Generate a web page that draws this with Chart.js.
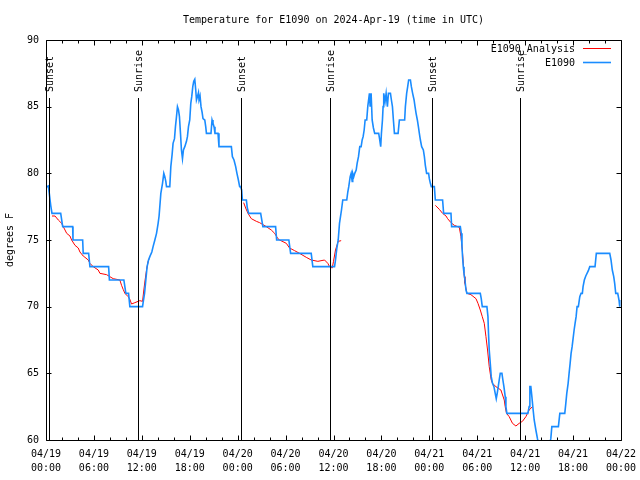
<!DOCTYPE html>
<html>
<head>
<meta charset="utf-8">
<script src="https://cdn.jsdelivr.net/npm/chart.js@4.4.1/dist/chart.umd.min.js"></script>
<style>
html,body{margin:0;padding:0;background:#fff;}
#c{display:block;}
</style>
</head>
<body>
<canvas id="c" width="640" height="480"></canvas>
<script>
// ---------- data ----------
const titleText = 'Temperature for E1090 on 2024-Apr-19 (time in UTC)';
const yAxisTitle = 'degrees F';
const tickHours = [0, 6, 12, 18, 24, 30, 36, 42, 48, 54, 60, 66, 72];
const tickDays  = ['04/19','04/19','04/19','04/19','04/20','04/20','04/20','04/20','04/21','04/21','04/21','04/21','04/22'];
const tickTimes = ['00:00','06:00','12:00','18:00','00:00','06:00','12:00','18:00','00:00','06:00','12:00','18:00','00:00'];
const yTicks = [60, 65, 70, 75, 80, 85, 90];
const minorStepHours = 2;

const eventHours  = [0.375, 11.54, 24.375, 35.5, 48.375, 59.375];
const eventLabels = ['Sunset', 'Sunrise', 'Sunset', 'Sunrise', 'Sunset', 'Sunrise'];

const seriesNames = ['E1090', 'E1090_Analysis'];

// observed E1090 (hours since 04/19 00:00 UTC, degrees F)
const obsHours = [
  0.1, 0.29, 0.41, 0.59, 0.75, 1.84, 2.09, 3.34, 3.38, 4.59,
  4.66, 5.34, 5.5, 7.84, 7.94, 9.75, 10.0, 10.34, 10.5, 12.09,
  12.16, 12.34, 12.5, 12.66, 12.84, 13.0, 13.25, 13.41, 13.63, 13.84,
  14.04, 14.16, 14.38, 14.59, 14.75, 14.88, 15.0, 15.09, 15.5, 15.63,
  15.79, 15.91, 16.09, 16.21, 16.34, 16.46, 16.59, 16.71, 16.84, 16.96,
  17.09, 17.21, 17.38, 17.59, 17.71, 17.84, 18.0, 18.13, 18.25, 18.38,
  18.5, 18.63, 18.75, 18.84, 18.96, 19.09, 19.16, 19.29, 19.41, 19.54,
  19.66, 19.88, 20.0, 20.09, 20.66, 20.79, 20.91, 21.04, 21.16, 21.54,
  21.66, 23.21, 23.34, 23.54, 23.75, 23.91, 24.09, 24.25, 24.37, 24.5,
  24.59, 25.09, 25.21, 25.38, 26.88, 27.16, 28.75, 28.88, 30.41, 30.63,
  33.21, 33.41, 35.71, 36.13, 36.25, 36.41, 36.59, 36.75, 37.0, 37.16,
  37.66, 37.79, 37.91, 38.09, 38.21, 38.34, 38.41, 38.54, 38.66, 38.84,
  38.96, 39.13, 39.29, 39.46, 39.59, 39.71, 39.84, 39.96, 40.16, 40.29,
  40.5, 40.59, 40.71, 40.84, 41.0, 41.16, 41.66, 41.79, 41.91, 42.0,
  42.13, 42.21, 42.29, 42.46, 42.59, 42.75, 42.88, 43.13, 43.25, 43.38,
  43.5, 43.63, 44.09, 44.25, 44.91, 45.0, 45.16, 45.29, 45.41, 45.63,
  45.75, 45.91, 46.09, 46.21, 46.34, 46.5, 46.63, 46.75, 46.88, 47.04,
  47.25, 47.38, 47.5, 47.66, 47.91, 48.0, 48.13, 48.25, 48.63, 48.75,
  49.66, 49.79, 50.71, 50.79, 51.88, 52.0, 52.09, 52.16, 52.25, 52.34,
  52.46, 52.59, 52.71, 54.38, 54.5, 54.63, 55.21, 55.34, 55.41, 55.5,
  55.63, 55.75, 55.91, 56.09, 56.25, 56.38, 56.5, 56.63, 56.75, 56.88,
  57.09, 57.21, 57.34, 57.5, 57.59, 57.71, 60.34, 60.5, 60.59, 60.71,
  60.84, 61.0, 61.13, 61.34, 61.54, 61.75, 62.38, 63.0, 63.21, 63.34,
  64.16, 64.34, 64.96, 65.09, 65.21, 65.38, 65.5, 65.63, 65.75, 65.88,
  66.0, 66.13, 66.25, 66.38, 66.5, 66.66, 66.84, 67.0, 67.16, 67.25,
  67.41, 67.59, 67.91, 68.09, 68.75, 68.91, 70.59, 70.75, 70.91, 71.09,
  71.21, 71.34, 71.59, 71.75, 71.84
];
const obsTemps = [
  79, 79.05, 78.5, 77.6, 77, 77, 76, 76, 75, 75,
  74, 74, 73, 73, 72, 72, 71, 71, 70, 70,
  70.3, 71, 72, 73, 73.5, 73.75, 74.1, 74.5, 75, 75.5,
  76.25, 76.8, 78.5, 79.25, 80, 79.75, 79.4, 79, 79, 80.5,
  81.4, 82.25, 82.6, 83.5, 84.25, 85, 84.75, 84.25, 83, 81.75,
  81.1, 81.75, 82, 82.4, 82.75, 83.5, 84, 85.25, 85.75, 86.5,
  86.9, 87.05, 86.25, 85.5, 85.75, 86.05, 85.5, 85.8, 85, 84.6,
  84.1, 84, 83.5, 83, 83, 84, 83.75, 83.5, 83, 83,
  82, 82, 81.25, 81, 80.5, 80, 79.5, 79, 79, 78.75,
  78, 78, 77.4, 77, 77, 76, 76, 75, 75, 74,
  74, 73, 73, 73, 73.5, 74.35, 75, 76.25, 77.25, 78,
  78, 78.6, 79, 79.75, 80, 79.4, 80, 79.75, 80, 80.25,
  80.75, 81.25, 82, 82, 82.5, 82.75, 83.25, 84, 84, 85,
  86, 85, 86, 84, 83.4, 83, 83, 82.5, 82, 83,
  84, 85, 86, 85.4, 86, 85, 86, 86, 85.5, 85,
  84, 83, 83, 84, 84, 85, 86, 86.5, 87, 87,
  86.5, 86, 85.5, 85, 84.5, 84, 83.5, 83, 82.5, 82,
  81.75, 81.25, 80.6, 80, 80, 79.6, 79.25, 79, 79, 78,
  78, 77, 77, 76, 76, 75.5, 74.5, 73.75, 73, 72.5,
  72, 71.25, 71, 71, 70.6, 70, 70, 69.25, 68, 66.75,
  65.75, 64.75, 64.25, 64, 63.5, 63.1, 63.5, 64, 64.5, 65,
  65, 64.5, 64, 63.25, 62.5, 62, 62, 62.5, 64, 64,
  63.25, 62.25, 61.5, 60.75, 60.1, 59.5, 59, 59.5, 60.1, 61,
  61, 62, 62, 62.75, 63.5, 64.25, 65, 65.75, 66.5, 67,
  67.6, 68.25, 68.75, 69.25, 70, 70, 70.75, 71, 71, 71.5,
  72, 72.3, 72.7, 73, 73, 74, 74, 73.5, 72.75, 72.25,
  71.75, 71, 71, 70.5, 70
];

// analysis E1090_Analysis (null = gap)
const anaHours = [
  0.75, 1.13, 1.54, 1.96, 2.16, 2.38, 2.59, 3.0, 3.21, 3.63,
  4.04, 4.25, 4.66, 4.88, 5.29, 5.5, 5.91, 6.54, 6.75, 7.59,
  8.0, 8.41, 9.25, 9.46, 9.66, 9.88, 10.29, 10.5, 10.71, 11.13,
  11.75, 12.09, 12.25, 12.41, 12.59, 12.79, 12.91,
  18,
  24.75, 25.0, 25.29, 25.5, 25.71, 26.34, 26.75, 27.59, 28.21, 28.63,
  29.04, 29.25, 30.09, 30.5, 31.13, 31.75, 32.59, 33.21, 34.04, 34.88,
  35.29, 35.5, 35.84, 36.0, 36.25, 36.59, 36.96,
  42,
  48.75, 49.25, 49.66, 50.09, 50.29, 50.71, 51.13, 51.75, 51.96, 52.13,
  52.25, 52.38, 52.46, 52.71, 53.21, 53.84, 54.09, 54.38, 54.63, 54.88,
  55.09, 55.29, 55.5, 55.75, 55.91, 56.34, 56.96, 57.38, 57.5, 57.66,
  58.0, 58.41, 58.84, 59.25, 59.66, 60.09, 60.5, 60.91
];
const anaTemps = [
  76.8, 76.8, 76.5, 76.25, 76, 75.75, 75.5, 75.3, 75, 74.6,
  74.4, 74.1, 73.8, 73.7, 73.5, 73.25, 73, 72.75, 72.5, 72.4,
  72.25, 72.1, 72, 71.6, 71.3, 71, 70.75, 70.55, 70.2, 70.3,
  70.45, 70.4, 71.25, 72, 72.75, 73.4, 73.6,
  null,
  77.8, 77.4, 77, 76.8, 76.6, 76.4, 76.3, 76, 75.75, 75.5,
  75.1, 75, 74.75, 74.4, 74.2, 74, 73.7, 73.5, 73.4, 73.5,
  73.25, 73, 72.9, 73.4, 74.25, 74.9, 74.95,
  null,
  77.6, 77.3, 77, 76.8, 76.6, 76.3, 76.1, 75.95, 75.25, 74.25,
  73.25, 72.25, 71.75, 71, 70.9, 70.6, 70.25, 69.75, 69.25, 68.75,
  67.75, 66.75, 65.5, 64.5, 64.25, 64, 63.75, 63, 62.5, 62,
  61.75, 61.25, 61.05, 61.25, 61.4, 61.75, 62.25, 62.5
];

// ---------- styling ----------
const FONT_FAMILY = '"DejaVu Sans Mono", "Liberation Mono", monospace';
const FONT_SIZE = 10;
const OBS_COLOR = '#1a8cff';
const ANA_COLOR = '#ff0000';
const MAJOR_TICK = 5;
const MINOR_TICK = 3;

function pairs(xs, ys) {
  const n = Math.min(xs.length, ys.length);
  const out = [];
  for (let i = 0; i < n; i++) out.push({x: xs[i], y: ys[i]});
  return out;
}

const gnuFrame = {
  id: 'gnuFrame',
  afterDatasetsDraw(chart) {
    const {ctx, chartArea: a, scales} = chart;
    const xs = scales.x, ys = scales.y;
    const L = Math.round(a.left) + 0.5, R = Math.round(a.right) + 0.5;
    const T = Math.round(a.top) + 0.5, B = Math.round(a.bottom) + 0.5;
    ctx.save();
    ctx.strokeStyle = '#000';
    ctx.lineWidth = 1;
    ctx.beginPath();
    ctx.moveTo(L, T); ctx.lineTo(R, T); ctx.lineTo(R, B); ctx.lineTo(L, B); ctx.closePath();
    ys.ticks.forEach(t => {
      const p = Math.round(ys.getPixelForValue(t.value)) + 0.5;
      ctx.moveTo(L, p); ctx.lineTo(L + MAJOR_TICK, p);
      ctx.moveTo(R, p); ctx.lineTo(R - MAJOR_TICK, p);
    });
    for (let h = xs.min; h <= xs.max; h += minorStepHours) {
      const len = tickHours.includes(h) ? MAJOR_TICK : MINOR_TICK;
      const p = Math.round(xs.getPixelForValue(h)) + 0.5;
      ctx.moveTo(p, B); ctx.lineTo(p, B - len);
      ctx.moveTo(p, T); ctx.lineTo(p, T + len);
    }
    ctx.stroke();

    // sunrise / sunset markers
    ctx.font = FONT_SIZE + 'px ' + FONT_FAMILY;
    ctx.fillStyle = '#000';
    eventHours.forEach((h, i) => {
      const p = Math.round(xs.getPixelForValue(h)) + 0.5;
      ctx.beginPath();
      ctx.moveTo(p, a.top + 58);
      ctx.lineTo(p, B);
      ctx.stroke();
      ctx.save();
      ctx.translate(p + 1, a.top + 52);
      ctx.rotate(-Math.PI / 2);
      ctx.textAlign = 'left';
      ctx.textBaseline = 'middle';
      ctx.fillText(eventLabels[i], 0, 0);
      ctx.restore();
    });

    // title
    ctx.textAlign = 'center';
    ctx.textBaseline = 'middle';
    ctx.fillText(titleText, (a.left + a.right) / 2, 20);

    // key (legend)
    const keyOrder = [1, 0];
    keyOrder.forEach((di, k) => {
      const ds = chart.data.datasets[di];
      const yy = Math.round(a.top + 9 + k * 14);
      ctx.textAlign = 'right';
      ctx.fillStyle = '#000';
      ctx.fillText(ds.label, a.right - 46, yy);
      ctx.strokeStyle = ds.borderColor;
      ctx.lineWidth = di === 1 ? 1 : 1.6;
      ctx.beginPath();
      ctx.moveTo(a.right - 38, yy - 0.5);
      ctx.lineTo(a.right - 10, yy - 0.5);
      ctx.stroke();
    });
    ctx.restore();
  }
};

const font = {family: FONT_FAMILY, size: FONT_SIZE, lineHeight: 1.4};

new Chart(document.getElementById('c'), {
  type: 'line',
  data: {
    datasets: [
      {
        label: seriesNames[0],
        data: pairs(obsHours, obsTemps),
        borderColor: OBS_COLOR,
        borderWidth: 1.6,
        pointRadius: 0,
        tension: 0,
        fill: false,
        clip: 0
      },
      {
        label: seriesNames[1],
        data: pairs(anaHours, anaTemps),
        borderColor: ANA_COLOR,
        borderWidth: 1,
        pointRadius: 0,
        tension: 0,
        fill: false,
        spanGaps: false,
        clip: 0
      }
    ]
  },
  options: {
    responsive: false,
    animation: false,
    devicePixelRatio: 1,
    layout: {padding: {top: 40, right: 19, left: 0, bottom: 0}},
    plugins: {
      legend: {display: false},
      tooltip: {enabled: false},
      title: {display: false}
    },
    scales: {
      x: {
        type: 'linear',
        min: tickHours[0],
        max: tickHours[tickHours.length - 1],
        afterBuildTicks: s => { s.ticks = tickHours.map(v => ({value: v})); },
        afterFit: s => { s.height = 40; s.paddingLeft = 0; s.paddingRight = 0; },
        grid: {display: false, drawTicks: false},
        border: {display: false},
        ticks: {
          padding: 7,
          maxRotation: 0,
          autoSkip: false,
          color: '#000',
          font: font,
          callback: v => {
            const i = tickHours.indexOf(v);
            return i >= 0 ? [tickDays[i], tickTimes[i]] : '';
          }
        }
      },
      y: {
        min: yTicks[0],
        max: yTicks[yTicks.length - 1],
        afterBuildTicks: s => { s.ticks = yTicks.map(v => ({value: v})); },
        afterFit: s => { s.width = 46; s.paddingTop = 0; s.paddingBottom = 0; },
        grid: {display: false, drawTicks: false},
        border: {display: false},
        ticks: {padding: 7, color: '#000', font: {family: FONT_FAMILY, size: FONT_SIZE}},
        title: {
          display: true,
          text: yAxisTitle,
          color: '#000',
          font: {family: FONT_FAMILY, size: FONT_SIZE, lineHeight: 1.2},
          padding: {top: 4, bottom: 0}
        }
      }
    }
  },
  plugins: [gnuFrame]
});
</script>
</body>
</html>
